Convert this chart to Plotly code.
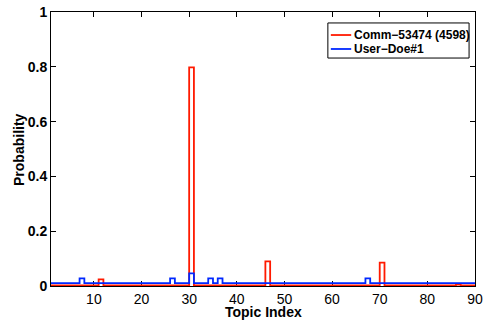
import plotly.graph_objects as go

topic_index = list(range(1, 91))

red_base = 0.002
comm_vals = [red_base] * 90
comm_peaks = {11: 0.024, 30: 0.798, 46: 0.090, 70: 0.085, 86: 0.005}
for k, v in comm_peaks.items():
    comm_vals[k - 1] = v

blue_base = 0.0105
user_vals = [blue_base] * 90
user_peaks = {7: 0.028, 26: 0.028, 30: 0.046, 34: 0.028, 36: 0.028, 67: 0.028}
for k, v in user_peaks.items():
    user_vals[k - 1] = v

series_names = ["Comm\u221253474 (4598)", "User\u2212Doe#1"]
series_colors = ["#ff1a00", "#0028ff"]

x_ticks = [10, 20, 30, 40, 50, 60, 70, 80, 90]
y_ticks = [0, 0.2, 0.4, 0.6, 0.8, 1]
y_tick_labels = ["0", "0.2", "0.4", "0.6", "0.8", "1"]
x_title = "Topic Index"
y_title = "Probability"

font_family = "Liberation Sans, Arial, sans-serif"

fig = go.Figure()
for vals, name, color in zip([comm_vals, user_vals], series_names, series_colors):
    fig.add_trace(go.Scatter(x=topic_index, y=vals, mode="lines",
                             line=dict(color=color, width=1.8, shape="hv"),
                             name=name, showlegend=False))

axis_common = dict(showline=True, linecolor="black", linewidth=1, mirror="ticks",
                   ticks="inside", ticklen=5, tickcolor="black", tickwidth=1,
                   showgrid=False, zeroline=False, layer="below traces", automargin=False,
                   tickfont=dict(family=font_family, size=14, color="black"))

# manual MATLAB-style legend (paper coords)
lx0, lx1, ly0, ly1 = 0.653, 0.986, 0.832, 0.960
line_x0, line_x1 = 0.660, 0.708
row_y = [0.916, 0.865]
shapes = [dict(type="rect", xref="paper", yref="paper", x0=lx0, x1=lx1, y0=ly0, y1=ly1,
               line=dict(color="black", width=1), fillcolor="white", layer="above")]
annotations = []
for name, color, yy in zip(series_names, series_colors, row_y):
    shapes.append(dict(type="line", xref="paper", yref="paper", x0=line_x0, x1=line_x1,
                       y0=yy, y1=yy, line=dict(color=color, width=1.8), layer="above"))
    annotations.append(dict(xref="paper", yref="paper", x=0.711, y=yy, xanchor="left",
                            yanchor="middle", showarrow=False, text="<b>%s</b>" % name,
                            font=dict(family=font_family, size=12, color="black")))

annotations.append(dict(xref="paper", yref="paper", x=0.5, y=-0.094, xanchor="center",
                        yanchor="middle", showarrow=False, text="<b>%s</b>" % x_title,
                        font=dict(family=font_family, size=14, color="black")))
annotations.append(dict(xref="paper", yref="paper", x=-0.0755, y=0.5, xanchor="center",
                        yanchor="middle", showarrow=False, textangle=-90,
                        text="<b>%s</b>" % y_title,
                        font=dict(family=font_family, size=14, color="black")))

fig.update_layout(
    width=484, height=320,
    margin=dict(l=51, r=9, t=12, b=34),
    paper_bgcolor="white", plot_bgcolor="white",
    font=dict(family=font_family, color="black"),
    xaxis=dict(range=[1, 90], tickvals=x_ticks,
               tickprefix="<b>", ticksuffix="</b>", **axis_common),
    yaxis=dict(range=[0, 1], tickvals=y_ticks, ticktext=["<b>%s</b>" % t for t in y_tick_labels],
               **axis_common),
    shapes=shapes,
    annotations=annotations,
    showlegend=False,
)

fig.write_html("out.html")
